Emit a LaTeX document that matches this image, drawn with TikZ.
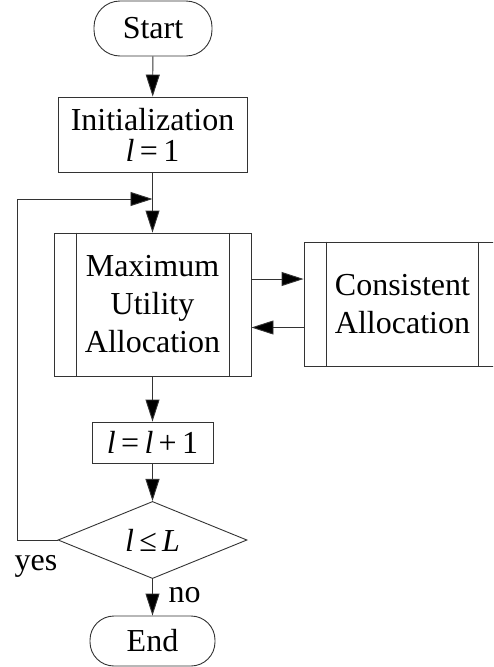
\documentclass[tikz,border=0pt]{standalone}
\usepackage{fontspec}
\setmainfont{Liberation Serif}
\usetikzlibrary{shapes.geometric,arrows.meta,calc}
\begin{document}
\begin{tikzpicture}[x=1pt,y=-1pt,
  every node/.style={font=\fontsize{32}{38}\selectfont, inner sep=0pt, align=center},
  ln/.style={draw=black!80, line width=0.9pt},
  term/.style={ln, rectangle, rounded corners=26pt},
  procbox/.style={ln, rectangle},
  decbox/.style={ln, diamond},
  arr/.style={ln, -{Triangle[length=22pt,width=14pt,fill=black]}},
  lbl/.style={font=\fontsize{32}{38}\selectfont}
]
\useasboundingbox (0,0) rectangle (493,667);
\clip (0,0) rectangle (493,667);
\node[term, minimum width=118pt, minimum height=55pt] (start) at (153,28.5) {Start};
\node[procbox, minimum width=189pt, minimum height=75pt] (init) at (152.5,134.5) {Initialization\\[-7pt]\textit{l}\,=\,1};
\node[procbox, minimum width=197pt, minimum height=143pt] (mua) at (152.5,304.5) {Maximum\\Utility\\Allocation};
\node[procbox, minimum width=197pt, minimum height=124pt] (cons) at (402.5,304) {Consistent\\Allocation};
\node[procbox, minimum width=121pt, minimum height=41pt] (inc) at (152.5,442.5) {\textit{l}\,=\,\textit{l}\,+\,1};
\node[decbox, minimum width=189pt, minimum height=64pt] (dec) at (152.5,540) {\textit{l}\,≤\,\textit{L}};
\node[term, minimum width=125pt, minimum height=50pt, rounded corners=24pt] (end) at (152.5,641) {End};
% inner lines of predefined processes
\draw[ln] ([xshift=23pt]mua.north west) -- ([xshift=23pt]mua.south west);
\draw[ln] ([xshift=-22pt]mua.north east) -- ([xshift=-22pt]mua.south east);
\draw[ln] ([xshift=23pt]cons.north west) -- ([xshift=23pt]cons.south west);
\draw[ln] ([xshift=-23pt]cons.north east) -- ([xshift=-23pt]cons.south east);
% connectors
\coordinate (join) at (152.5,199);
\coordinate (lc) at (17.7,199);
\draw[arr] (start) -- (init);
\draw[arr] (init) -- (mua);
\draw[arr] ([yshift=25.5pt]mua.east) -- ([yshift=25.5pt]mua.east -| cons.west);
\draw[arr] ([yshift=-23.5pt]cons.west) -- ([yshift=-23.5pt]cons.west -| mua.east);
\draw[arr] (mua) -- (inc);
\draw[arr] (inc) -- (dec);
\draw[arr] (dec) -- (end);
\draw[arr] (dec.west) -| (lc) -- (join);
\node[lbl] (yes) at (36,566) {yes};
\node[lbl] (no) at (184.5,595) {no};
\end{tikzpicture}
\end{document}
